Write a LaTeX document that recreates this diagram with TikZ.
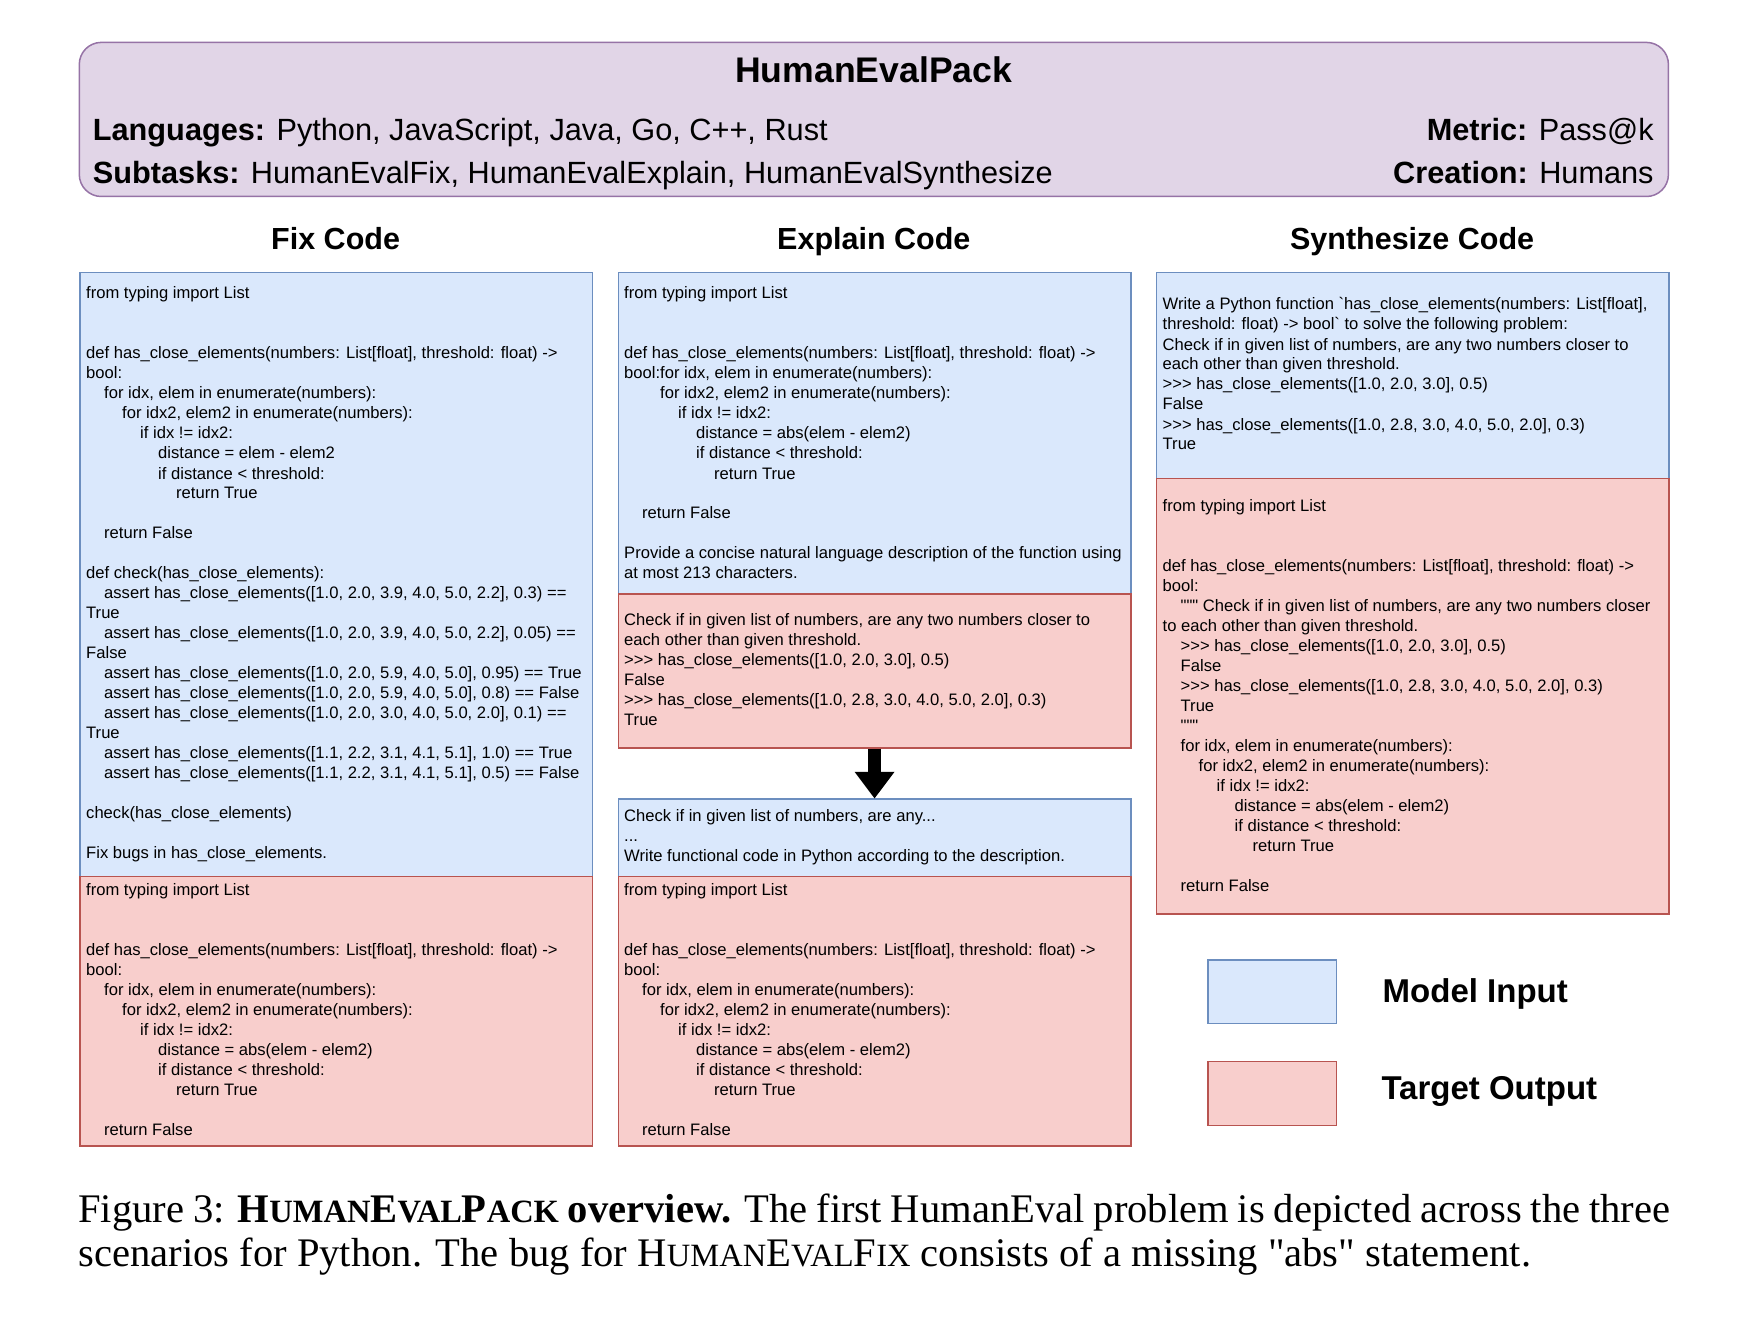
\documentclass[tikz,border=0pt]{standalone}
\usepackage{fontspec}
\setmainfont{Liberation Sans}[Ligatures={TeXOff,CommonOff}]
\newfontfamily\capfont{Liberation Serif}
\definecolor{infill}{HTML}{DAE8FC}
\definecolor{inedge}{HTML}{6C8EBF}
\definecolor{outfill}{HTML}{F8CECC}
\definecolor{outedge}{HTML}{B85450}
\definecolor{topfill}{HTML}{E1D5E7}
\definecolor{topedge}{HTML}{9673A6}
\newcommand\lv[1]{\hspace*{\numexpr18*#1\relax pt}}
\newcommand\bl{\mbox{}\\}
\newcommand\smc[1]{{\fontsize{32.5}{32}\selectfont #1}}
\tikzset{
  inbox/.style={draw=inedge, fill=infill, line width=1.5pt, minimum width=512.6pt, anchor=north west, inner sep=0pt},
  outbox/.style={draw=outedge, fill=outfill, line width=1.5pt, minimum width=512.6pt, anchor=north west, inner sep=0pt},
  code/.style={anchor=base west, inner sep=0pt, font=\fontsize{16.6}{20}\selectfont},
  hdr/.style={anchor=base, inner sep=0pt, font=\bfseries\fontsize{30.5}{36}\selectfont},
  meta/.style={inner sep=0pt, font=\fontsize{30.7}{36}\selectfont},
  legtext/.style={anchor=base west, inner sep=0pt, font=\bfseries\fontsize{33}{40}\selectfont},
  captext/.style={anchor=base west, inner sep=0pt, font=\capfont\fontsize{40.6}{44}\selectfont},
}
\begin{document}
\begin{tikzpicture}[x=1pt,y=-1pt]
\path[use as bounding box, fill=white] (0,0) rectangle (1751,1340);

% top box
\draw[draw=topedge, fill=topfill, line width=1.5pt, rounded corners=22pt] (79.3,42.4) rectangle (1668.4,196.5);
\node[anchor=base, inner sep=0pt, font=\bfseries\fontsize{35.6}{40}\selectfont] (title) at (873.8,83) {HumanEvalPack};
\node[meta, anchor=base west] (lang) at (92.7,141) {\textbf{Languages:} Python, JavaScript, Java, Go, C++, Rust};
\node[meta, anchor=base west] (sub) at (92.7,184) {\textbf{Subtasks:} HumanEvalFix, HumanEvalExplain, HumanEvalSynthesize};
\node[meta, anchor=base east] (metric) at (1653.8,141) {\textbf{Metric:} Pass@k};
\node[meta, anchor=base east] (creation) at (1653.8,184) {\textbf{Creation:} Humans};

% headers
\node[hdr] (hfix) at (335.6,250) {Fix Code};
\node[hdr] (hexp) at (873.8,250) {Explain Code};
\node[hdr] (hsyn) at (1412.1,250) {Synthesize Code};

% boxes
\node[inbox, minimum height=603.5pt] (fixin) at (79.3,272) {};
\node[outbox, minimum height=269.5pt] (fixout) at (79.3,875.5) {};
\node[inbox, minimum height=321pt] (expin) at (617.5,272) {};
\node[outbox, minimum height=154pt] (expout) at (617.5,593) {};
\node[inbox, minimum height=77.1pt] (expin2) at (617.5,798.4) {};
\node[outbox, minimum height=269.5pt] (expout2) at (617.5,875.5) {};
\node[inbox, minimum height=206pt] (synin) at (1155.8,272) {};
\node[outbox, minimum height=435.5pt] (synout) at (1155.8,477.9) {};

% arrow
\coordinate (ahead) at ([yshift=26.6pt]expin2.north);
\draw[line width=13pt] (expout.south) -- ([yshift=-1pt]ahead);
\fill (expin2.north) -- ([xshift=-20pt]ahead) -- ([xshift=20pt]ahead) -- cycle;

% Fix texts
\node[code] (tfixin) at (86,299) {\begin{minipage}[t]{600pt}
from typing import List\\
\bl
\bl
def has\_close\_elements(numbers: List[float], threshold: float) ->\\
bool:\\
\lv{1}for idx, elem in enumerate(numbers):\\
\lv{2}for idx2, elem2 in enumerate(numbers):\\
\lv{3}if idx != idx2:\\
\lv{4}distance = elem - elem2\\
\lv{4}if distance < threshold:\\
\lv{5}return True\\
\bl
\lv{1}return False\\
\bl
def check(has\_close\_elements):\\
\lv{1}assert has\_close\_elements([1.0, 2.0, 3.9, 4.0, 5.0, 2.2], 0.3) ==\\
True\\
\lv{1}assert has\_close\_elements([1.0, 2.0, 3.9, 4.0, 5.0, 2.2], 0.05) ==\\
False\\
\lv{1}assert has\_close\_elements([1.0, 2.0, 5.9, 4.0, 5.0], 0.95) == True\\
\lv{1}assert has\_close\_elements([1.0, 2.0, 5.9, 4.0, 5.0], 0.8) == False\\
\lv{1}assert has\_close\_elements([1.0, 2.0, 3.0, 4.0, 5.0, 2.0], 0.1) ==\\
True\\
\lv{1}assert has\_close\_elements([1.1, 2.2, 3.1, 4.1, 5.1], 1.0) == True\\
\lv{1}assert has\_close\_elements([1.1, 2.2, 3.1, 4.1, 5.1], 0.5) == False\\
\bl
check(has\_close\_elements)\\
\bl
Fix bugs in has\_close\_elements.
\end{minipage}};

\node[code] (tfixout) at (86,895) {\begin{minipage}[t]{600pt}
from typing import List\\
\bl
\bl
def has\_close\_elements(numbers: List[float], threshold: float) ->\\
bool:\\
\lv{1}for idx, elem in enumerate(numbers):\\
\lv{2}for idx2, elem2 in enumerate(numbers):\\
\lv{3}if idx != idx2:\\
\lv{4}distance = abs(elem - elem2)\\
\lv{4}if distance < threshold:\\
\lv{5}return True\\
\bl
\lv{1}return False
\end{minipage}};

% Explain texts
\node[code] (texpin) at (624,299) {\begin{minipage}[t]{600pt}
from typing import List\\
\bl
\bl
def has\_close\_elements(numbers: List[float], threshold: float) ->\\
bool:for idx, elem in enumerate(numbers):\\
\lv{2}for idx2, elem2 in enumerate(numbers):\\
\lv{3}if idx != idx2:\\
\lv{4}distance = abs(elem - elem2)\\
\lv{4}if distance < threshold:\\
\lv{5}return True\\
\bl
\lv{1}return False\\
\bl
Provide a concise natural language description of the function using\\
at most 213 characters.
\end{minipage}};

\node[code] (texpout) at (624,625) {\begin{minipage}[t]{600pt}
Check if in given list of numbers, are any two numbers closer to\\
each other than given threshold.\\
>>> has\_close\_elements([1.0, 2.0, 3.0], 0.5)\\
False\\
>>> has\_close\_elements([1.0, 2.8, 3.0, 4.0, 5.0, 2.0], 0.3)\\
True
\end{minipage}};

\node[code] (texpin2) at (624,821) {\begin{minipage}[t]{600pt}
Check if in given list of numbers, are any...\\
...\\
Write functional code in Python according to the description.
\end{minipage}};

\node[code] (texpout2) at (624,895) {\begin{minipage}[t]{600pt}
from typing import List\\
\bl
\bl
def has\_close\_elements(numbers: List[float], threshold: float) ->\\
bool:\\
\lv{1}for idx, elem in enumerate(numbers):\\
\lv{2}for idx2, elem2 in enumerate(numbers):\\
\lv{3}if idx != idx2:\\
\lv{4}distance = abs(elem - elem2)\\
\lv{4}if distance < threshold:\\
\lv{5}return True\\
\bl
\lv{1}return False
\end{minipage}};

% Synthesize texts
\node[code] (tsynin) at (1162.5,310) {\begin{minipage}[t]{600pt}
Write a Python function `has\_close\_elements(numbers: List[float],\\
threshold: float) -> bool` to solve the following problem:\\
Check if in given list of numbers, are any two numbers closer to\\
each other than given threshold.\\
>>> has\_close\_elements([1.0, 2.0, 3.0], 0.5)\\
False\\
>>> has\_close\_elements([1.0, 2.8, 3.0, 4.0, 5.0, 2.0], 0.3)\\
True
\end{minipage}};

\node[code] (tsynout) at (1162.5,511) {\begin{minipage}[t]{600pt}
from typing import List\\
\bl
\bl
def has\_close\_elements(numbers: List[float], threshold: float) ->\\
bool:\\
\lv{1}""" Check if in given list of numbers, are any two numbers closer\\
to each other than given threshold.\\
\lv{1}>>> has\_close\_elements([1.0, 2.0, 3.0], 0.5)\\
\lv{1}False\\
\lv{1}>>> has\_close\_elements([1.0, 2.8, 3.0, 4.0, 5.0, 2.0], 0.3)\\
\lv{1}True\\
\lv{1}"""\\
\lv{1}for idx, elem in enumerate(numbers):\\
\lv{2}for idx2, elem2 in enumerate(numbers):\\
\lv{3}if idx != idx2:\\
\lv{4}distance = abs(elem - elem2)\\
\lv{4}if distance < threshold:\\
\lv{5}return True\\
\bl
\lv{1}return False
\end{minipage}};

% legend
\node[inbox, minimum width=128.4pt, minimum height=63.7pt] (legin) at (1207.1,959.2) {};
\node[outbox, minimum width=128.4pt, minimum height=63.7pt] (legout) at (1207.1,1060.9) {};
\node[legtext] (legintext) at (1382.5,1002) {Model Input};
\node[legtext] (legouttext) at (1381.3,1099.5) {Target Output};

% caption
\node[captext] (cap1) at (78.2,1222) {\makebox[1592pt][s]{Figure 3: \textbf{H\smc{UMAN}E\smc{VAL}P\smc{ACK} overview.} The first HumanEval problem is depicted across the three}};
\node[captext] (cap2) at (78.2,1266) {scenarios for Python. The bug for H\smc{UMAN}E\smc{VAL}F\smc{IX} consists of a missing "abs" statement.};
\end{tikzpicture}
\end{document}
